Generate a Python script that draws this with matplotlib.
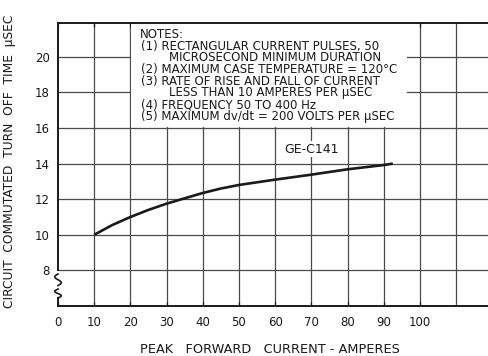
import numpy as np
import matplotlib
matplotlib.use("Agg")
import matplotlib.pyplot as plt
from matplotlib.patches import Rectangle

# peak forward current (A) vs circuit commutated turn-off time (usec), GE-C141
current = [10, 15, 20, 25, 30, 35, 40, 45, 50, 60, 70, 80, 90, 92.5]
toff = [10.0, 10.55, 11.0, 11.4, 11.75, 12.05, 12.35, 12.6, 12.8, 13.1, 13.38, 13.68, 13.92, 14.0]

x_ticks = [0, 10, 20, 30, 40, 50, 60, 70, 80, 90, 100]
y_ticks = [8, 10, 12, 14, 16, 18, 20]
notes = [
    ("NOTES:", 0),
    ("(1) RECTANGULAR CURRENT PULSES, 50", 1),
    ("MICROSECOND MINIMUM DURATION", 2),
    ("(2) MAXIMUM CASE TEMPERATURE = 120°C", 1),
    ("(3) RATE OF RISE AND FALL OF CURRENT", 1),
    ("LESS THAN 10 AMPERES PER μSEC", 2),
    ("(4) FREQUENCY 50 TO 400 Hz", 1),
    ("(5) MAXIMUM dv/dt = 200 VOLTS PER μSEC", 1),
]

plt.rcParams["font.family"] = ["DejaVu Sans"]
ink = "#1a1a1a"
grid_c = "#4a4a4a"

fig = plt.figure(figsize=(4.88, 3.56), dpi=100)
ax = fig.add_axes([58 / 488, 50 / 356, 430 / 488, 283 / 356])
ax.set_xlim(0, 118.8)
ax.set_ylim(6, 21.9)

for xv in range(10, 120, 10):
    ax.axvline(xv, color=grid_c, lw=0.9, zorder=1)
for yv in y_ticks:
    ax.axhline(yv, color=grid_c, lw=0.9, zorder=1)

# notes block blanks out the grid behind it
ax.add_patch(Rectangle((20.3, 16.06), 76.2, 6.0, facecolor="white", edgecolor="none", zorder=2))
x_left = {0: 22.6, 1: 23.0, 2: 30.8}
for i, (line, lvl) in enumerate(notes):
    ax.text(x_left[lvl], 21.25 - i * 0.655, line, fontsize=8.5, color=ink,
            va="center", ha="left", zorder=3)

ax.plot(current, toff, color=ink, lw=1.9, solid_capstyle="butt", zorder=4)
ax.text(70, 14.8, "GE-C141", fontsize=9, color=ink, ha="center", va="center", zorder=3,
        bbox=dict(facecolor="white", edgecolor="none", pad=1.0))

ax.set_xticks(x_ticks)
ax.set_yticks(y_ticks)
ax.tick_params(axis="both", length=0, labelsize=8.5, colors=ink)
ax.tick_params(axis="x", pad=7)
ax.tick_params(axis="y", pad=6)
# short ticks hanging from the top border
ax.tick_params(axis="x", top=True, direction="in", length=3, width=0.9)

ax.set_xlabel("PEAK   FORWARD   CURRENT - AMPERES", fontsize=9.3, color=ink)
ax.xaxis.set_label_coords(0.493, -0.13)
ax.set_ylabel("CIRCUIT  COMMUTATED  TURN  OFF  TIME  μSEC", fontsize=8.8, color=ink)
ax.yaxis.set_label_coords(-0.098, 0.51)

ax.spines["right"].set_visible(False)
for s in ("top", "bottom", "left"):
    ax.spines[s].set_linewidth(1.4)
    ax.spines[s].set_color(ink)
ax.spines["left"].set_bounds(8, 21.9)

# axis break marks on the left border
t = np.linspace(0, 2 * np.pi, 40)
ax.plot(-0.9 * np.sin(t), np.linspace(7.8, 7.15, 40), color=ink, lw=1.2, clip_on=False, zorder=5)
ax.plot(-0.9 * np.sin(t), np.linspace(6.95, 6.45, 40), color=ink, lw=1.2, clip_on=False, zorder=5)
ax.plot([0, 0], [6.45, 6.0], color=ink, lw=1.4, clip_on=False, zorder=5)

fig.savefig("out.png", dpi=100)
